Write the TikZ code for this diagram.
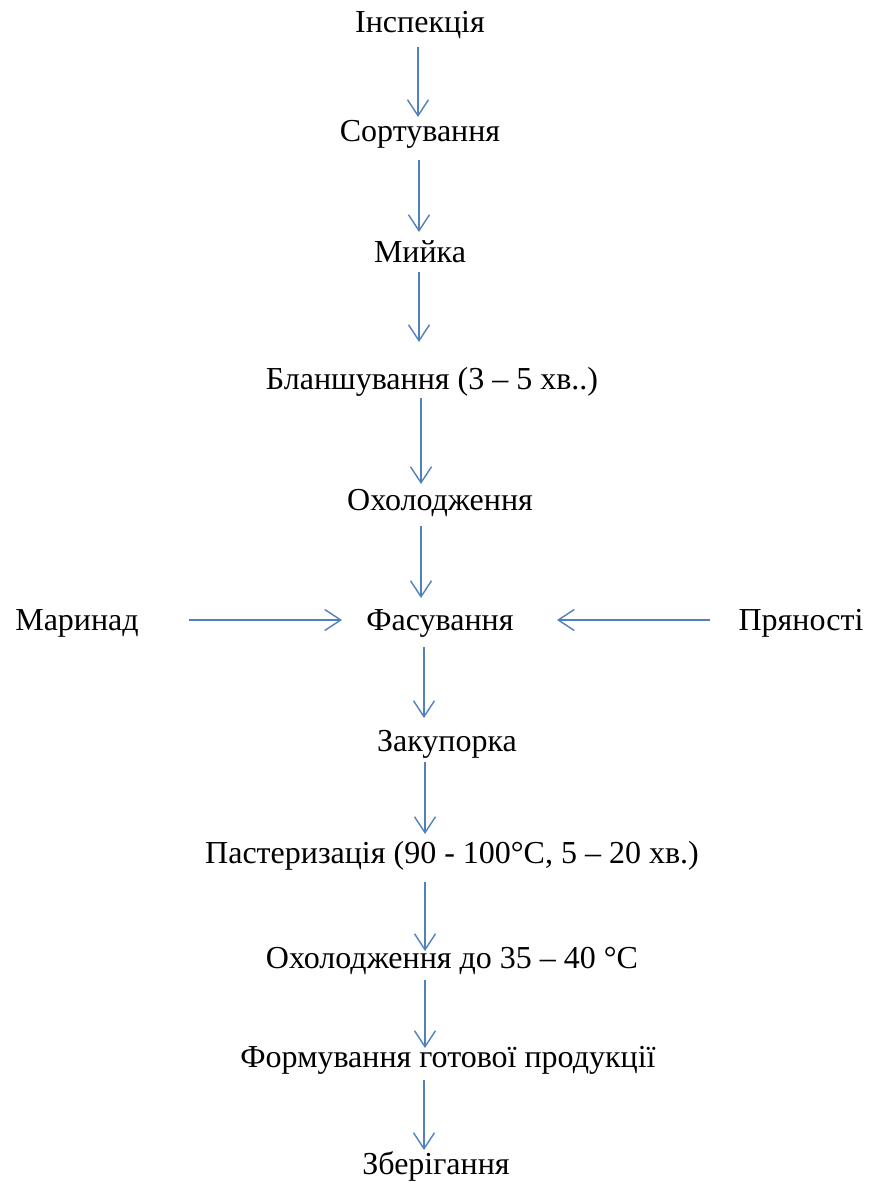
\documentclass[tikz,border=0pt]{standalone}
\usepackage{fontspec}
\setmainfont{Liberation Serif}
\usetikzlibrary{arrows.meta,calc}
\definecolor{arrblue}{HTML}{4F81BD}
\tikzset{
  lbl/.style={anchor=base,inner sep=0pt,font=\fontsize{32}{38}\selectfont},
  arr/.style={draw=arrblue,line width=1.4pt,-{Straight Barb[length=16pt,width=21pt,line width=1.4pt]}}
}
\begin{document}
\begin{tikzpicture}[x=1pt,y=-1pt]
\useasboundingbox (0,0) rectangle (871,1182);
\node[lbl] (n1) at (420,33) {Інспекція};
\node[lbl] (n2) at (420,142) {Сортування};
\node[lbl] (n3) at (420,262) {Мийка};
\node[lbl] (n4) at (432,389) {Бланшування (3 – 5 хв..)};
\node[lbl] (n5) at (440,510) {Охолодження};
\node[lbl] (n6) at (440,630) {Фасування};
\node[lbl] (mar) at (77,630) {Маринад};
\node[lbl] (pr) at (801,630) {Пряності};
\node[lbl] (n7) at (447,751) {Закупорка};
\node[lbl] (n8) at (452,863) {Пастеризація (90 - 100°С, 5 – 20 хв.)};
\node[lbl] (n9) at (452,968) {Охолодження до 35 – 40 °С};
\node[lbl] (n10) at (448,1067) {Формування готової продукції};
\node[lbl] (n11) at (436,1174) {Зберігання};
\draw[arr] ($(n1.base)+(-2,14)$) -- ($(n2.base)+(-2,-25)$);
\draw[arr] ($(n2.base)+(-1,18)$) -- ($(n3.base)+(-1,-30)$);
\draw[arr] ($(n3.base)+(-1,10)$) -- ($(n4.base)+(-13,-47)$);
\draw[arr] ($(n4.base)+(-11,9)$) -- ($(n5.base)+(-19,-26)$);
\draw[arr] ($(n5.base)+(-19,16)$) -- ($(n6.base)+(-19,-32)$);
\draw[arr] ($(n6.base)+(-16,17)$) -- ($(n7.base)+(-23,-33)$);
\draw[arr] ($(n7.base)+(-22,11)$) -- ($(n8.base)+(-27,-29)$);
\draw[arr] ($(n8.base)+(-27,19)$) -- ($(n9.base)+(-27,-17)$);
\draw[arr] ($(n9.base)+(-27,12)$) -- ($(n10.base)+(-23,-19)$);
\draw[arr] ($(n10.base)+(-24,13)$) -- ($(n11.base)+(-12,-24)$);
\draw[arr] ($(mar.base)+(112,-10)$) -- ($(n6.base)+(-98,-10)$);
\draw[arr] ($(pr.base)+(-91,-10)$) -- ($(n6.base)+(117,-10)$);
\end{tikzpicture}
\end{document}
